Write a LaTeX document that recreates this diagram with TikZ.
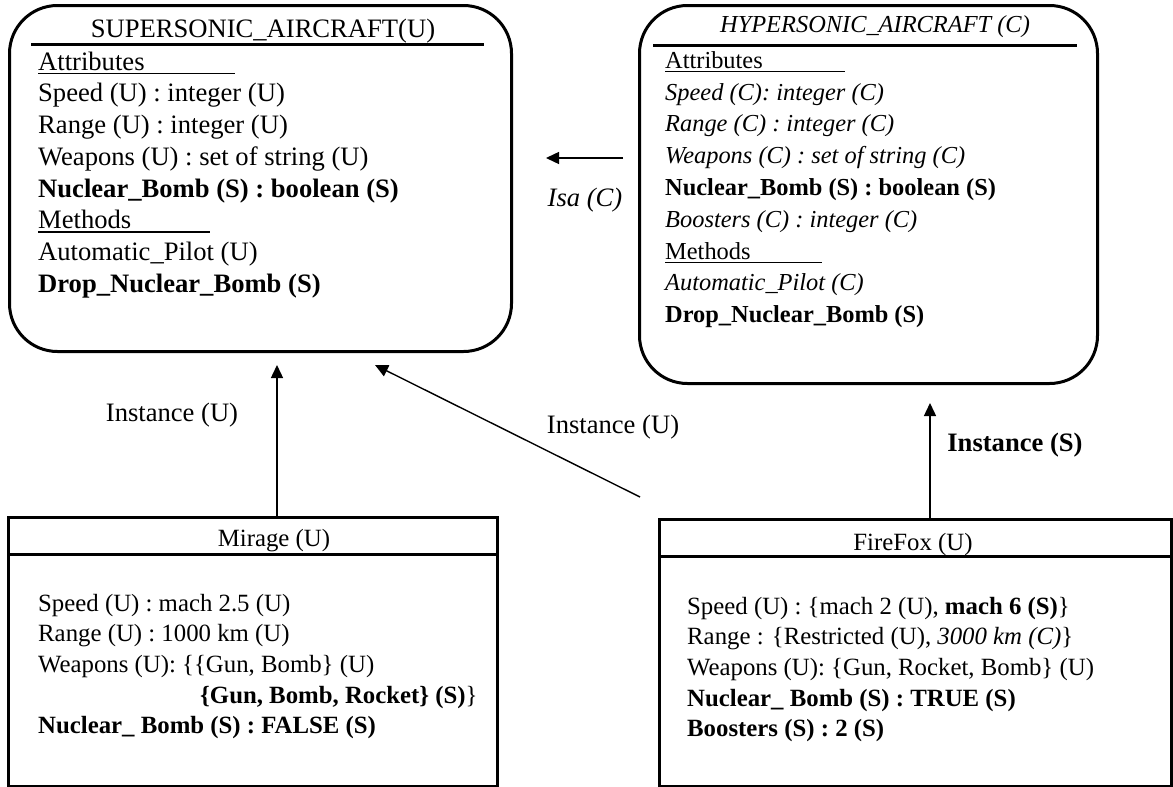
\documentclass[tikz,border=0pt]{standalone}
\usepackage{fontspec}
\setmainfont{Liberation Serif}
\usetikzlibrary{arrows.meta}

% underlined heading with a fixed rule length
\newcommand{\hdr}[2]{\rlap{\rule[-4pt]{#2}{1.4pt}}#1}

\begin{document}
\begin{tikzpicture}[x=1pt, y=-1pt, >={Triangle[length=13pt,width=12pt]},
	font=\fontsize{26.6}{31.7}\selectfont,
	boxframe/.style={draw, line width=3pt, anchor=north west, inner sep=0pt},
	cls/.style={boxframe, rounded corners=48pt},
	obj/.style={boxframe},
	body/.style={anchor=north west, align=left, inner sep=0pt},
	head/.style={anchor=base, inner sep=0pt},
	hypfont/.style={font=\fontsize{24.4}{31.8}\selectfont},
	objfont/.style={font=\fontsize{24.8}{30.6}\selectfont},
	link/.style={->, line width=1.4pt}]
	\useasboundingbox (0,0) rectangle (1173,787);

	% Classes {SUPERSONIC_AIRCRAFT, HYPERSONIC_AIRCRAFT}
	\node [cls, minimum width=502pt, minimum height=346pt] (super) at (8,4) {};
	\node [cls, minimum width=458pt, minimum height=378pt] (hyper) at (638,4) {};
	\node [head] (supname) at (263,37) {SUPERSONIC\_AIRCRAFT(U)};
	\node [head, hypfont] (hypname) at (875,32) {\itshape HYPERSONIC\_AIRCRAFT (C)};
	\draw [line width=3pt] (31,44) -- (484,44);
	\draw [line width=3pt] (653,45) -- (1077,45);

	\node [body] (supbody) at (38,50) {\rule{0pt}{20pt}\hdr{Attributes}{197pt}\\
		Speed (U) : integer (U)\\
		Range (U) : integer (U)\\
		Weapons (U) : set of string (U)\\
		\textbf{Nuclear\_Bomb (S) : boolean (S)}\\
		\hdr{Methods}{172pt}\\
		Automatic\_Pilot (U)\\
		\textbf{Drop\_Nuclear\_Bomb (S)}};
	\node [body, hypfont] (hypbody) at (665,48) {\rule{0pt}{20pt}\hdr{Attributes}{180pt}\\
		\textit{Speed (C): integer (C)}\\
		\textit{Range (C) : integer (C)}\\
		\textit{Weapons (C) : set of string (C)}\\
		\textbf{Nuclear\_Bomb (S) : boolean (S)}\\
		\textit{Boosters (C) : integer (C)}\\
		\hdr{Methods}{157pt}\\
		\textit{Automatic\_Pilot (C)}\\
		\textbf{Drop\_Nuclear\_Bomb (S)}};

	% Objects {Mirage, FireFox}
	\node [obj, minimum width=489pt, minimum height=269pt] (mirage) at (7,516) {};
	\node [obj, minimum width=512pt, minimum height=267pt] (firefox) at (658,518) {};
	\node [head, objfont] (mirname) at (274,546) {Mirage (U)};
	\node [head, objfont] (ffxname) at (913,550) {FireFox (U)};
	\draw [line width=3pt] ([yshift=-38pt]mirage.north west) -- ([yshift=-38pt]mirage.north east);
	\draw [line width=3pt] ([yshift=-38pt]firefox.north west) -- ([yshift=-38pt]firefox.north east);

	\node [body, objfont] (mirbody) at (38,592) {\rule{0pt}{19pt}Speed (U) : mach 2.5 (U)\\
		Range (U) : 1000 km (U)\\
		Weapons (U): \{\{Gun, Bomb\} (U)\\
		\hspace*{162pt}\textbf{\{Gun, Bomb, Rocket\} (S)}\}\\
		\textbf{Nuclear\_ Bomb (S) : FALSE (S)}};
	\node [body, objfont] (ffxbody) at (687,595) {\rule{0pt}{19pt}Speed (U) : \{mach 2 (U), \textbf{mach 6 (S)}\}\\
		Range : \{Restricted (U), \textit{3000 km (C)}\}\\
		Weapons (U): \{Gun, Rocket, Bomb\} (U)\\
		\textbf{Nuclear\_ Bomb (S) : TRUE (S)}\\
		\textbf{Boosters (S) : 2 (S)}};

	% Labels
	\node (isa) at (585,200) {\textit{Isa (C)}};
	\node (instmir) at (172,415) {Instance (U)};
	\node (instffx) at (613,427) {Instance (U)};
	\node (insthyp) at (1015,445) {\textbf{Instance (S)}};

	% Paths {Mirage -> SUPER, FireFox -> SUPER, FireFox -> HYPER, HYPER -> SUPER}
	\coordinate (tipmir) at (277,365);
	\coordinate (tipffx) at (375,365);
	\coordinate (tailffx) at (640,497);
	\coordinate (tiphyp) at (930,403);
	\coordinate (isatail) at (623,158);
	\coordinate (isatip) at (546,158);
	\path [link] (tipmir |- mirage.north) edge (tipmir)
				(tailffx) edge (tipffx)
				(tiphyp |- firefox.north) edge (tiphyp)
				(isatail) edge (isatip);
\end{tikzpicture}
\end{document}
